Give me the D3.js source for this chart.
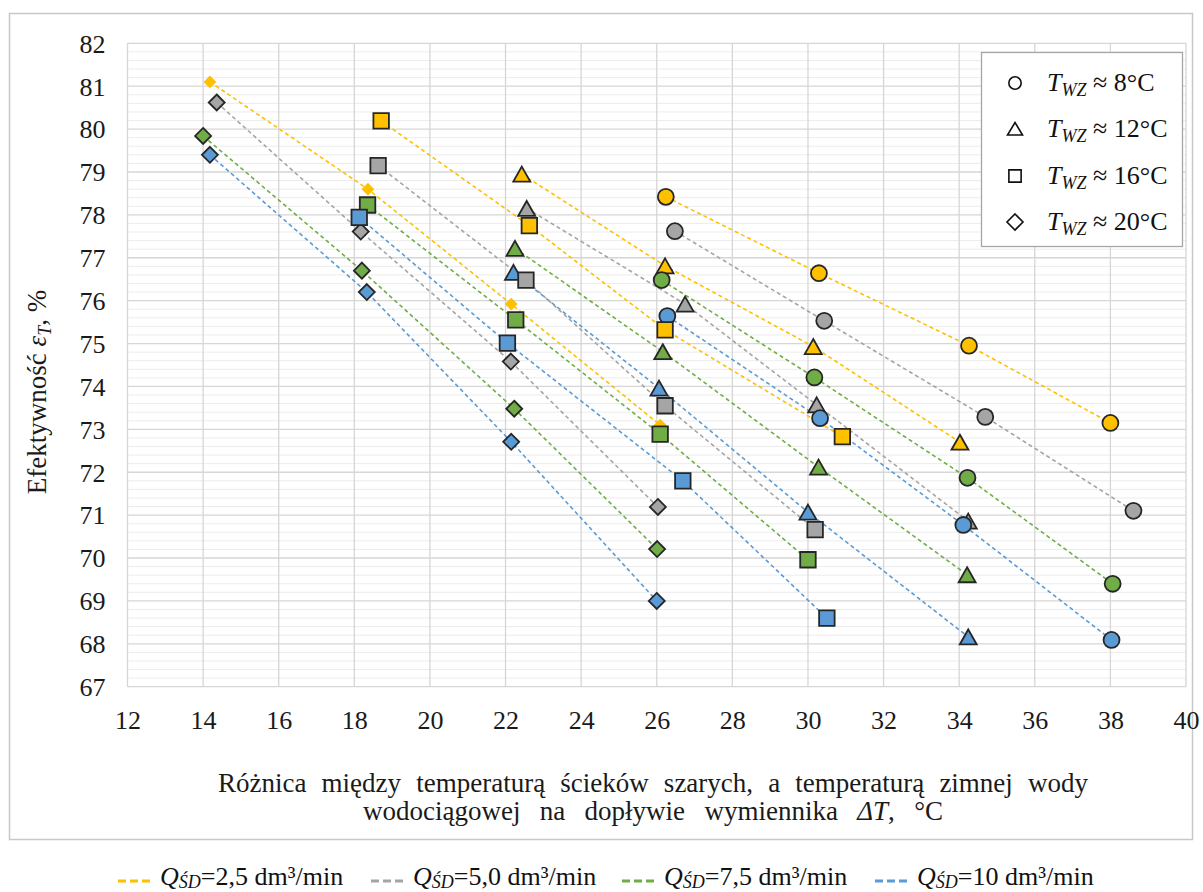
<!DOCTYPE html>
<html>
<head>
<meta charset="utf-8">
<script src="https://cdn.jsdelivr.net/npm/d3@7"></script>
<style>
  html, body { margin: 0; padding: 0; background: #fff; }
  svg { display: block; font-family: "Liberation Serif", "Times New Roman", serif; }
</style>
</head>
<body>
<svg id="chart" width="1203" height="892"></svg>
<script>
// Flow rates (series colours) and cold-water temperatures (marker shapes)
const flowLabels = ["2,5", "5,0", "7,5", "10"];
const flowColors = ["#FFC000", "#A5A5A5", "#70AD47", "#5B9BD5"];
const twzLabels = ["8", "12", "16", "20"];
const twzShapes = ["circle", "triangle", "square", "diamond"];

// ΔT [°C] and efficiency εT [%]; one row per flow rate (2.5, 5.0, 7.5, 10 dm³/min)
const dT8   = [[26.24, 30.29, 34.26, 38.00], [26.48, 30.43, 34.69, 38.61], [26.13, 30.17, 34.22, 38.06], [26.28, 30.32, 34.11, 38.03]];
const eff8  = [[78.42, 76.64, 74.95, 73.15], [77.62, 75.53, 73.29, 71.10], [76.48, 74.21, 71.87, 69.40], [75.64, 73.26, 70.77, 68.09]];
const dT12  = [[22.43, 26.22, 30.14, 34.02], [22.56, 26.75, 30.23, 34.24], [22.25, 26.16, 30.28, 34.21], [22.21, 26.06, 30.00, 34.24]];
const eff12 = [[78.95, 76.81, 74.93, 72.70], [78.15, 75.92, 73.57, 70.86], [77.22, 74.81, 72.12, 69.61], [76.66, 73.96, 71.07, 68.16]];
const dT16  = [[18.71, 22.63, 26.22, 30.91], [18.63, 22.54, 26.22, 30.19], [18.35, 22.27, 26.09, 30.00], [18.13, 22.05, 26.69, 30.50]];
const eff16 = [[80.19, 77.75, 75.32, 72.83], [79.15, 76.48, 73.55, 70.66], [78.23, 75.55, 72.89, 69.96], [77.94, 75.01, 71.80, 68.60]];
const dT20  = [[14.18, 18.36, 22.15, 26.09], [14.36, 18.17, 22.14, 26.03], [14.00, 18.20, 22.23, 26.01], [14.18, 18.33, 22.15, 26.00]];
const eff20 = [[81.10, 78.60, 75.92, 73.10], [80.62, 77.61, 74.58, 71.19], [79.84, 76.70, 73.48, 70.21], [79.40, 76.20, 72.71, 69.00]];

const xTicks = d3.range(12, 41, 2);
const yTicks = d3.range(67, 83, 1);

const groups = [
  { twz: 0, dT: dT8,  eff: eff8 },
  { twz: 1, dT: dT12, eff: eff12 },
  { twz: 2, dT: dT16, eff: eff16 },
  { twz: 3, dT: dT20, eff: eff20 }
];

const svg = d3.select("#chart");
const ink = "#1a1a1a";

// outer chart frame
svg.append("rect")
  .attr("x", 9.5).attr("y", 13.5).attr("width", 1183).attr("height", 826)
  .attr("fill", "#fff").attr("stroke", "#c8c8c8").attr("stroke-width", 1.5);

const plot = { left: 127.5, right: 1186, top: 43.3, bottom: 686.7 };
const x = d3.scaleLinear().domain([12, 40]).range([plot.left, plot.right]);
const y = d3.scaleLinear().domain([67, 82]).range([plot.bottom, plot.top]);

// minor horizontal grid
const grid = svg.append("g");
grid.selectAll("line.minor")
  .data(d3.range(67, 82.001, 0.2).filter(v => Math.abs(v - Math.round(v)) > 0.01))
  .join("line")
  .attr("x1", plot.left).attr("x2", plot.right)
  .attr("y1", d => y(d)).attr("y2", d => y(d))
  .attr("stroke", "#ececec").attr("stroke-width", 1);

// major grid
grid.selectAll("line.hy")
  .data(yTicks).join("line")
  .attr("x1", plot.left).attr("x2", plot.right)
  .attr("y1", d => y(d)).attr("y2", d => y(d))
  .attr("stroke", "#d6d6d6").attr("stroke-width", 1.3);
grid.selectAll("line.vx")
  .data(xTicks).join("line")
  .attr("x1", d => x(d)).attr("x2", d => x(d))
  .attr("y1", plot.top).attr("y2", plot.bottom)
  .attr("stroke", "#d6d6d6").attr("stroke-width", 1.3);

// axes (labels only)
const xAxis = svg.append("g")
  .attr("transform", `translate(0,${plot.bottom})`)
  .call(d3.axisBottom(x).tickValues(xTicks).tickSize(0).tickFormat(d3.format("d")));
xAxis.select(".domain").remove();
xAxis.selectAll("text")
  .attr("y", 42).attr("dy", 0)
  .attr("font-size", 26).attr("font-family", "Liberation Serif").attr("fill", ink);

const yAxis = svg.append("g")
  .attr("transform", `translate(${plot.left},0)`)
  .call(d3.axisLeft(y).tickValues(yTicks).tickSize(0).tickPadding(22).tickFormat(d3.format("d")));
yAxis.select(".domain").remove();
yAxis.selectAll("text")
  .attr("dy", "0.34em")
  .attr("font-size", 26).attr("font-family", "Liberation Serif").attr("fill", ink);

// axis titles
const yTitle = svg.append("text")
  .attr("transform", "translate(46,392) rotate(-90)")
  .attr("text-anchor", "middle").attr("font-size", 27).attr("fill", ink);
yTitle.append("tspan").text("Efektywność ");
yTitle.append("tspan").attr("font-style", "italic").text("ε");
yTitle.append("tspan").attr("font-style", "italic").attr("font-size", 18).attr("dy", 5).text("T");
yTitle.append("tspan").attr("dy", -5).text(", %");

// spread words of a text line to a given overall width
function fitWords(sel, width) {
  const node = sel.node();
  const w = node.getComputedTextLength();
  const spaces = (node.textContent.match(/ /g) || []).length;
  if (spaces > 0 && w < width) sel.attr("word-spacing", (width - w) / spaces);
}

const cx = 653;
const xt1 = svg.append("text")
  .attr("x", cx).attr("y", 792).attr("text-anchor", "middle")
  .attr("font-size", 27).attr("fill", ink)
  .text("Różnica między temperaturą ścieków szarych, a temperaturą zimnej wody");
fitWords(xt1, 870);
const xt2 = svg.append("text")
  .attr("x", cx).attr("y", 820).attr("text-anchor", "middle")
  .attr("font-size", 27).attr("fill", ink);
xt2.append("tspan").text("wodociągowej na dopływie wymiennika ");
xt2.append("tspan").attr("font-style", "italic").text("ΔT");
xt2.append("tspan").text(", °C");
fitWords(xt2, 580);

// series lines
const line = d3.line().x(d => x(d[0])).y(d => y(d[1]));
const linesG = svg.append("g");
groups.forEach(g => {
  g.dT.forEach((row, fi) => {
    const pts = row.map((v, i) => [v, g.eff[fi][i]]);
    linesG.append("path")
      .attr("d", line(pts))
      .attr("fill", "none")
      .attr("stroke", flowColors[fi])
      .attr("stroke-width", 1.6)
      .attr("stroke-dasharray", "4,3");
  });
});

// marker shapes
function markerPath(shape, scale) {
  const s = scale || 1;
  if (shape === "circle") return d3.symbol(d3.symbolCircle, 200 * s * s)();
  if (shape === "square") return d3.symbol(d3.symbolSquare, 240 * s * s)();
  if (shape === "triangle") {
    const w = 17 * s, h = 15 * s;
    return `M0,${-h / 2}L${w / 2},${h / 2}L${-w / 2},${h / 2}Z`;
  }
  // diamond
  const r = 8 * s;
  return `M0,${-r}L${r},0L0,${r}L${-r},0Z`;
}

// markers, drawn shape by shape
const drawOrder = [1, 0, 3, 2];
const markG = svg.append("g");
drawOrder.forEach(k => {
  const g = groups[k];
  const shape = twzShapes[g.twz];
  g.dT.forEach((row, fi) => {
    const small = (shape === "diamond" && fi === 0);
    row.forEach((v, i) => {
      markG.append("path")
        .attr("d", markerPath(shape, small ? 0.8 : 1))
        .attr("transform", `translate(${x(v)},${y(g.eff[fi][i])})`)
        .attr("fill", flowColors[fi])
        .attr("stroke", small ? "none" : "#262626")
        .attr("stroke-width", 1.8);
    });
  });
});

// shape legend (top right)
const lg = svg.append("g");
lg.append("rect")
  .attr("x", 981.5).attr("y", 52.5).attr("width", 201).attr("height", 194)
  .attr("fill", "#fff").attr("stroke", "#a6a6a6").attr("stroke-width", 1.3);
const legendRows = [83, 129, 176, 222];
twzShapes.forEach((shape, i) => {
  lg.append("path")
    .attr("d", shape === "circle" ? d3.symbol(d3.symbolCircle, 120)()
      : shape === "square" ? d3.symbol(d3.symbolSquare, 150)()
      : shape === "triangle" ? "M0,-6.5L7.5,6L-7.5,6Z"
      : "M0,-8L8,0L0,8L-8,0Z")
    .attr("transform", `translate(1015,${legendRows[i]})`)
    .attr("fill", "none").attr("stroke", "#111").attr("stroke-width", 1.6);
  const t = lg.append("text")
    .attr("x", 1047).attr("y", legendRows[i] + 8)
    .attr("font-size", 26).attr("fill", "#111");
  t.append("tspan").attr("font-style", "italic").text("T");
  t.append("tspan").attr("font-style", "italic").attr("font-size", 18).attr("dy", 5).text("WZ");
  t.append("tspan").attr("dy", -5).text(" ≈ " + twzLabels[i] + "°C");
});

// flow-rate legend (bottom)
const bl = svg.append("g");
const legendX = [118, 371, 622, 875];
flowLabels.forEach((lab, i) => {
  const x0 = legendX[i];
  bl.append("line")
    .attr("x1", x0).attr("x2", x0 + 35).attr("y1", 881).attr("y2", 881)
    .attr("stroke", flowColors[i]).attr("stroke-width", 3)
    .attr("stroke-dasharray", "8,4");
  const t = bl.append("text")
    .attr("x", x0 + 42).attr("y", 885)
    .attr("font-size", 26).attr("fill", "#111");
  t.append("tspan").attr("font-style", "italic").text("Q");
  t.append("tspan").attr("font-style", "italic").attr("font-size", 18).attr("dy", 3).text("ŚD");
  t.append("tspan").attr("dy", -3).text("=" + lab + " dm³/min");
});
</script>
</body>
</html>
